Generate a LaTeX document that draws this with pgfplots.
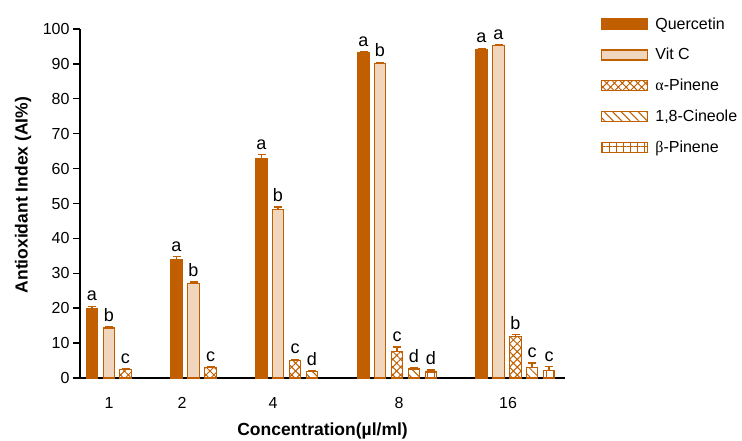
\documentclass[border=0pt]{standalone}
\usepackage{fontspec}
\setmainfont{Liberation Sans}
\newfontfamily\grk{Liberation Serif}
\usepackage{pgfplots}
\pgfplotsset{compat=1.18}
\usetikzlibrary{patterns.meta}
\definecolor{qor}{RGB}{192,94,0}
\definecolor{qlt}{RGB}{241,214,190}
\pgfplotsset{
  mybar/.style={ybar, bar width=11.5, bar shift=0pt, line width=1.2pt, draw=qor,
    legend image code/.code={\draw[##1] (0pt,-5pt) rectangle (46pt,5pt);},
    error bars/y dir=plus, error bars/y explicit,
    error bars/error bar style={qor, line width=1.2pt},
    error bars/error mark options={qor, rotate=90, mark size=4pt, line width=1.2pt}},
  mylab/.style={only marks, mark=none, forget plot, nodes near coords,
    point meta=explicit symbolic,
    nodes near coords style={font=\fontsize{18}{20}\selectfont, anchor=south, yshift=1.5pt, black}}
}
\pgfplotstableread{
x y e
92 20.0 0.6
176.5 33.8 0.9
261.5 62.8 1.2
363.5 93.2 0.3
481.5 94.2 0.3
}\quer
\pgfplotstableread{
x y e
109 14.3 0.3
193.5 27.0 0.5
278 48.2 0.8
380 90.1 0.4
498.5 95.2 0.4
}\vitc
\pgfplotstableread{
x y e
125.5 2.4 0.4
210.5 3.1 0.2
295 4.9 0.5
397 7.7 1.2
515.5 11.8 0.6
}\apin
\pgfplotstableread{
x y e
312 1.9 0.3
414 2.6 0.3
532 3.0 1.3
}\cine
\pgfplotstableread{
x y e
431 1.7 0.6
549 2.1 1.2
}\bpin
\pgfplotstableread{
x y l
92 20.6 a
176.5 34.7 a
261.5 64.0 a
363.5 93.5 a
481.5 94.5 a
109 14.6 b
193.5 27.5 b
278 49.0 b
380 90.5 b
498.5 95.6 a
125.5 2.8 c
210.5 3.3 c
295 5.4 c
397 8.9 c
515.5 12.4 b
312 2.2 d
414 2.9 d
532 4.3 c
431 2.3 d
549 3.3 c
}\labs
\begin{document}
\begin{tikzpicture}
\path[use as bounding box] (0,0) rectangle (742pt,441pt);
\begin{axis}[
  at={(80pt,63pt)}, anchor=south west,
  scale only axis, width=485pt, height=349pt,
  xmin=80, xmax=565, ymin=0, ymax=100,
  axis x line=bottom, axis y line=left,
  axis line style={-, line width=1.2pt},
  ytick={0,10,...,100},
  xtick={109,182,273,399,508}, xticklabels={1,2,4,8,16},
  tick align=outside,
  major tick length=7pt,
  ytick style={black, line width=1.4pt},
  xtick style={white, line width=0pt},
  tick label style={font=\fontsize{16}{19}\selectfont},
  /pgf/number format/assume math mode=true,
  xticklabel style={anchor=center, yshift=-18pt},
  yticklabel style={anchor=east, xshift=0pt},
  clip=false,
  xlabel={\bfseries Concentration(µl/ml)},
  ylabel={\bfseries Antioxidant Index (AI\%)},
  every axis x label/.style={at={(axis description cs:0.5,0)}, anchor=center, yshift=-53pt, font=\fontsize{17.5}{20}\selectfont},
  every axis y label/.style={at={(axis description cs:-0.1175,0.524)}, rotate=90, anchor=center, font=\fontsize{17.5}{20}\selectfont},
  legend style={at={(1.068,1.045)}, anchor=north west, draw=none, fill=none,
    font=\fontsize{16}{19}\selectfont, row sep=13.8pt,
    /tikz/every odd column/.append style={column sep=5pt}},
  legend cell align=left,
]
\addplot[mybar, fill=qor] table[x=x, y=y, y error=e]{\quer};
\addlegendentry{Quercetin}
\addplot[mybar, fill=qlt] table[x=x, y=y, y error=e]{\vitc};
\addlegendentry{Vit C}
\addplot[mybar, fill=white, postaction={pattern={Hatch[angle=45, distance=5.5pt, line width=1pt]}, pattern color=qor}] table[x=x, y=y, y error=e]{\apin};
\addlegendentry{{\grk α}-Pinene}
\addplot[mybar, fill=white, postaction={pattern={Lines[angle=-45, distance=6pt, line width=1pt]}, pattern color=qor}] table[x=x, y=y, y error=e]{\cine};
\addlegendentry{1,8-Cineole}
\addplot[mybar, fill=white, postaction={pattern={Hatch[angle=0, distance=7pt, line width=1pt]}, pattern color=qor}] table[x=x, y=y, y error=e]{\bpin};
\addlegendentry{{\grk β}-Pinene}
\addplot[mylab] table[x=x, y=y, meta=l]{\labs};
\end{axis}
\end{tikzpicture}
\end{document}
